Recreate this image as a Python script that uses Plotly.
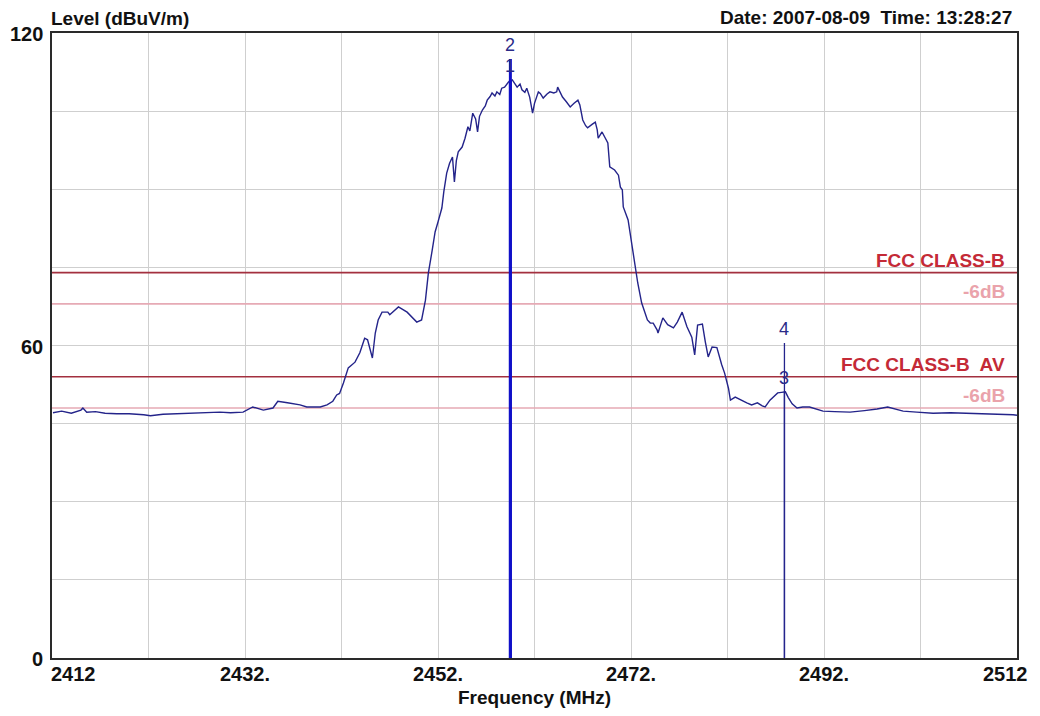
import plotly.graph_objects as go

# ---------------- data ----------------
freq_mhz = [2412.1, 2413.0, 2414.0, 2415.0, 2415.2, 2415.6, 2416.5, 2417.5, 2418.7, 2420.0,
            2421.5, 2422.2, 2423.5, 2425.0, 2427.0, 2428.5, 2429.4, 2430.5, 2431.8, 2432.8,
            2433.9, 2434.9, 2435.4, 2436.4, 2437.7, 2438.4, 2439.8, 2440.5, 2441.1, 2441.5,
            2441.8, 2442.2, 2442.7, 2443.4, 2443.9, 2444.4, 2444.7, 2445.2, 2445.5, 2445.8,
            2446.2, 2446.8, 2447.0, 2447.9, 2448.8, 2449.8, 2450.3, 2450.7, 2451.0, 2451.4,
            2451.7, 2452.0, 2452.4, 2452.6, 2452.9, 2453.2, 2453.5, 2453.7, 2453.9, 2454.1,
            2454.5, 2454.8, 2455.1, 2455.3, 2455.6, 2455.9, 2456.1, 2456.3, 2456.6, 2456.9,
            2457.1, 2457.4, 2457.6, 2457.9, 2458.1, 2458.4, 2458.6, 2458.9, 2459.3, 2459.7,
            2460.0, 2460.2, 2460.5, 2460.7, 2461.0, 2461.2, 2461.5, 2461.8, 2462.0, 2462.4,
            2462.6, 2462.9, 2463.3, 2463.6, 2464.0, 2464.3, 2464.4, 2464.7, 2464.9, 2465.3,
            2465.7, 2466.1, 2466.5, 2466.7, 2467.0, 2467.3, 2467.5, 2468.0, 2468.3, 2468.5,
            2468.6, 2469.0, 2469.3, 2469.6, 2469.8, 2470.1, 2470.3, 2470.7, 2470.9, 2471.1,
            2471.2, 2471.7, 2472.1, 2472.4, 2472.7, 2473.1, 2473.7, 2474.0, 2474.3, 2474.7,
            2474.8, 2475.3, 2475.8, 2476.4, 2476.8, 2477.3, 2477.8, 2478.3, 2478.6, 2478.9,
            2479.4, 2479.7, 2480.0, 2480.4, 2480.9, 2481.4, 2481.7, 2482.1, 2482.3, 2482.8,
            2483.3, 2484.0, 2484.5, 2485.1, 2485.6, 2485.9, 2486.4, 2486.9, 2487.2, 2487.6,
            2488.0, 2488.3, 2488.7, 2489.2, 2489.8, 2490.5, 2491.2, 2491.9, 2493.1, 2494.7,
            2496.2, 2497.5, 2498.6, 2499.4, 2500.2, 2501.6, 2503.3, 2505.1, 2506.8, 2508.7,
            2510.2, 2511.6, 2512.0]

level_dbuv = [47.1, 47.4, 47.0, 47.6, 48.0, 47.2, 47.3, 47.0, 46.9, 46.9,
              46.7, 46.5, 46.8, 46.9, 46.9, 47.0, 47.2, 47.1, 47.2, 48.2,
              47.6, 48.0, 49.3, 49.0, 48.6, 48.2, 48.2, 48.6, 49.3, 50.5,
              50.8, 52.8, 55.7, 56.8, 58.6, 61.4, 61.1, 57.6, 62.4, 64.9,
              66.4, 66.4, 65.9, 67.4, 66.4, 64.5, 64.9, 68.7, 73.9, 78.3,
              81.8, 83.7, 86.4, 89.5, 93.1, 95.0, 96.2, 91.4, 95.5, 97.2,
              98.1, 99.8, 102.0, 101.2, 104.6, 103.5, 101.0, 104.0, 105.2, 106.0,
              107.1, 107.8, 108.5, 107.9, 108.7, 108.2, 109.4, 109.6, 110.6, 111.0,
              110.2, 109.6, 110.2, 109.1, 108.6, 109.4, 107.7, 104.6, 106.5, 108.7,
              108.4, 107.5, 108.3, 108.7, 108.5, 108.7, 109.6, 108.5, 107.7, 106.8,
              105.8, 106.5, 107.1, 106.2, 103.3, 102.2, 101.8, 102.5, 102.9, 101.4,
              99.8, 101.0, 100.0, 98.9, 94.3, 94.0, 93.7, 92.7, 90.4, 89.9,
              86.6, 84.1, 78.9, 75.1, 72.0, 68.2, 64.9, 64.3, 64.3, 63.0,
              62.4, 65.3, 64.0, 63.4, 64.5, 66.4, 63.6, 61.6, 58.2, 63.9,
              64.1, 60.7, 57.8, 59.7, 59.6, 56.3, 54.7, 51.8, 49.5, 50.1,
              49.6, 49.0, 48.6, 49.0, 48.4, 48.2, 49.5, 50.3, 50.9, 51.0,
              51.1, 50.0, 48.8, 48.0, 48.2, 48.2, 47.8, 47.4, 47.3, 47.2,
              47.5, 47.8, 48.2, 47.8, 47.4, 47.2, 47.0, 47.1, 47.0, 47.0,
              46.9, 46.7, 46.6]

limit_names = ["FCC CLASS-B", "-6dB", "FCC CLASS-B\u00a0 AV", "-6dB"]
limit_levels = [74, 68, 54, 48]
limit_line_colors = ["#a3303f", "#e6aab5", "#a3303f", "#e6aab5"]
limit_text_colors = ["#c42a36", "#eaa3ab", "#c42a36", "#eaa3ab"]

marker_labels = ["1", "2", "3", "4"]
marker_freqs = [2459.5, 2459.5, 2487.9, 2487.9]
marker_levels = [111.0, 115.0, 51.1, 60.5]
marker_widths = [3, 3, 1.3, 1.3]
marker_colors = ["#1010c8", "#1010c8", "#24248c", "#24248c"]

x_tick_vals = [2412, 2432, 2452, 2472, 2492, 2512]
x_tick_text = ["2412", "2432.", "2452.", "2472.", "2492.", "2512"]
y_tick_vals = [0, 60, 120]
y_tick_text = ["0", "60", "120"]

x_range = [2412, 2512]
y_range = [0, 120]

FONT = "Liberation Sans, Arial, sans-serif"

fig = go.Figure()

# limit lines
for name, lvl, lc in zip(limit_names, limit_levels, limit_line_colors):
    fig.add_trace(go.Scatter(x=x_range, y=[lvl, lvl], mode="lines",
                             line=dict(color=lc, width=1.6), hoverinfo="skip",
                             showlegend=False))

# spectrum trace
fig.add_trace(go.Scatter(x=freq_mhz, y=level_dbuv, mode="lines",
                         line=dict(color="#24248a", width=1.4), showlegend=False))

# markers (vertical lines)
order = [1, 0, 3, 2]
for i in order:
    fig.add_trace(go.Scatter(x=[marker_freqs[i], marker_freqs[i]], y=[0, marker_levels[i]],
                             mode="lines", line=dict(color=marker_colors[i], width=marker_widths[i]),
                             hoverinfo="skip", showlegend=False))

annotations = []
# marker labels
for lab, f, lvl in zip(marker_labels, marker_freqs, marker_levels):
    annotations.append(dict(x=f, y=lvl, xref="x", yref="y", text=lab, showarrow=False,
                            xanchor="center", yanchor="bottom", yshift=2,
                            font=dict(family=FONT, size=18, color="#2a2a88")))

# limit labels
for name, lvl, tc in zip(limit_names, limit_levels, limit_text_colors):
    annotations.append(dict(x=x_range[1], y=lvl, xref="x", yref="y", text="<b>%s</b>" % name,
                            showarrow=False, xanchor="right", yanchor="bottom",
                            xshift=-10, yshift=0,
                            font=dict(family=FONT, size=19, color=tc)))

# x tick labels
for i, (v, t) in enumerate(zip(x_tick_vals, x_tick_text)):
    if i == 0:
        xa, xs = "left", -3
    elif i == len(x_tick_vals) - 1:
        xa, xs = "right", 13
    else:
        xa, xs = "center", 0
    annotations.append(dict(x=v, y=0, xref="x", yref="paper", text="<b>%s</b>" % t,
                            showarrow=False, xanchor=xa, yanchor="top", xshift=xs, yshift=-3,
                            font=dict(family=FONT, size=20, color="#111111")))

# y tick labels
for v, t in zip(y_tick_vals, y_tick_text):
    annotations.append(dict(x=0, y=v, xref="paper", yref="y", text="<b>%s</b>" % t,
                            showarrow=False, xanchor="right", yanchor="middle", xshift=-7,
                            yshift=-1,
                            font=dict(family=FONT, size=20, color="#111111")))

# titles
annotations.append(dict(x=0.5, y=0, xref="paper", yref="paper", text="<b>Frequency (MHz)</b>",
                        showarrow=False, xanchor="center", yanchor="top", yshift=-27,
                        font=dict(family=FONT, size=19, color="#111111")))
annotations.append(dict(x=0, y=1, xref="paper", yref="paper", text="<b>Level (dBuV/m)</b>",
                        showarrow=False, xanchor="left", yanchor="bottom", xshift=-3, yshift=2,
                        font=dict(family=FONT, size=19, color="#111111")))
annotations.append(dict(x=1, y=1, xref="paper", yref="paper",
                        text="<b>Date: 2007-08-09\u00a0 Time: 13:28:27</b>",
                        showarrow=False, xanchor="right", yanchor="bottom", xshift=-3, yshift=3,
                        font=dict(family=FONT, size=19, color="#111111")))

# page body has an 8px default margin; figure is sized so the plot box lands
# at x 52..1017, y 33..658 in the 1040x716 window
fig.update_layout(
    width=1032, height=708,
    margin=dict(l=44, r=23, t=25, b=58),
    paper_bgcolor="white", plot_bgcolor="white",
    annotations=annotations,
    showlegend=False,
    xaxis=dict(range=x_range, dtick=10, tick0=2412, showgrid=True, gridcolor="#cfcfcf",
               gridwidth=1, showticklabels=False, ticks="", zeroline=False,
               showline=True, linecolor="#2a2a2a", linewidth=2, mirror=True),
    yaxis=dict(range=y_range, dtick=15, tick0=0, showgrid=True, gridcolor="#cfcfcf",
               gridwidth=1, showticklabels=False, ticks="", zeroline=False,
               showline=True, linecolor="#2a2a2a", linewidth=2, mirror=True),
)

fig.write_html("out.html")
